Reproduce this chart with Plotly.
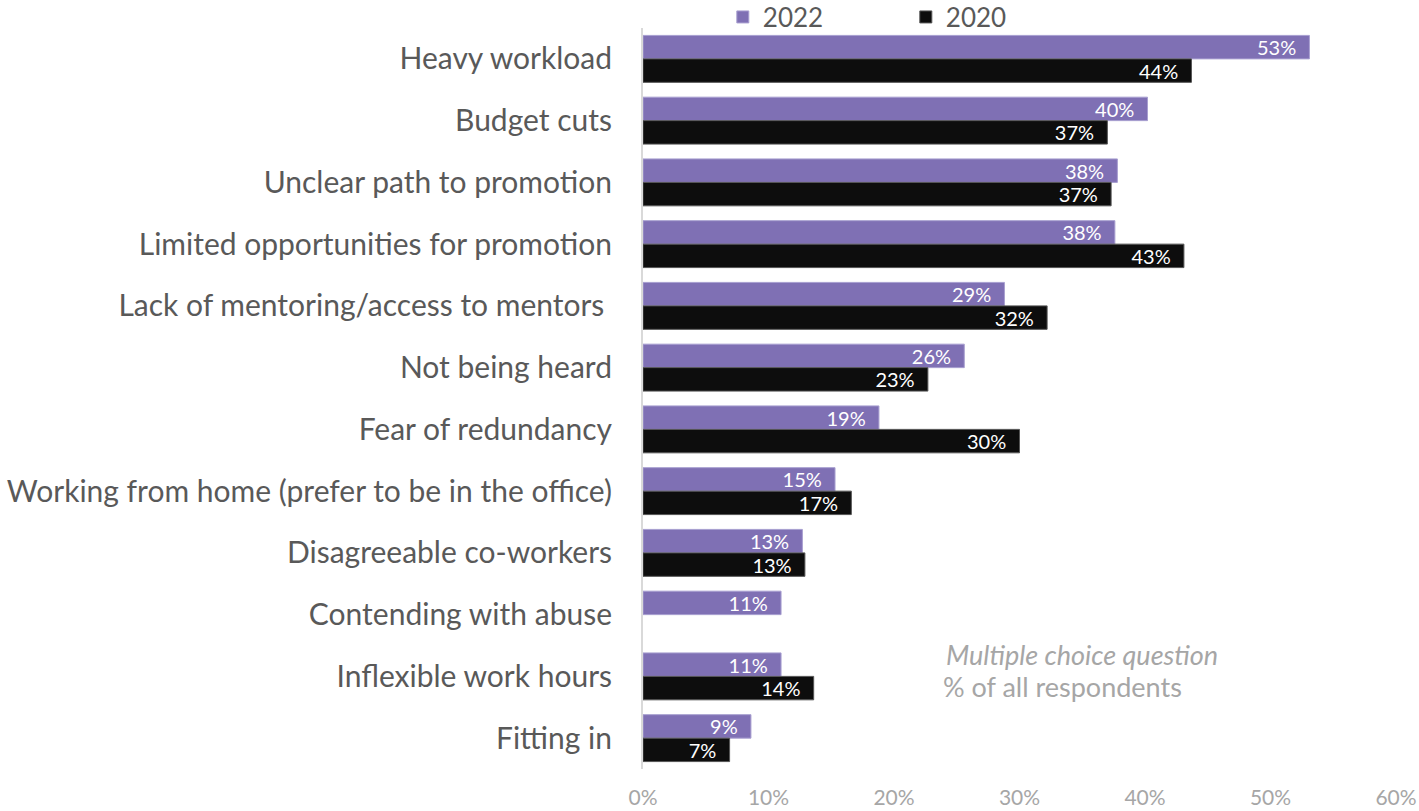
import plotly.graph_objects as go

# Survey data: share of respondents citing each workplace concern
categories = [
    "Heavy workload",
    "Budget cuts",
    "Unclear path to promotion",
    "Limited opportunities for promotion",
    "Lack of mentoring/access to mentors\u00a0",
    "Not being heard",
    "Fear of redundancy",
    "Working from home (prefer to be in the office)",
    "Disagreeable co-workers",
    "Contending with abuse",
    "Inflexible work hours",
    "Fitting in",
]
values_2022 = [53.1, 40.2, 37.8, 37.6, 28.8, 25.6, 18.8, 15.3, 12.7, 11.0, 11.0, 8.6]
values_2020 = [43.7, 37.0, 37.3, 43.1, 32.2, 22.7, 30.0, 16.6, 12.9, None, 13.6, 6.9]
x_ticks = [0, 10, 20, 30, 40, 50, 60]
x_tick_labels = ["0%", "10%", "20%", "30%", "40%", "50%", "60%"]

FONT = "Lato"
PURPLE = "#7f70b4"
BLACK = "#0d0d0d"
PAD = "\u00a0\u00a0"

fig = go.Figure()
fig.add_trace(go.Bar(
    name="2022", y=categories, x=values_2022, orientation="h",
    marker=dict(color=PURPLE, line=dict(color="#a89fd0", width=1)),
    texttemplate="%{x:.0f}%" + PAD, textposition="inside",
    insidetextanchor="end", constraintext="none",
    textfont=dict(color="white", size=20, family=FONT),
    hoverinfo="skip",
))
fig.add_trace(go.Bar(
    name="2020", y=categories, x=values_2020, orientation="h",
    marker=dict(color=BLACK, line=dict(color="#555555", width=1)),
    texttemplate="%{x:.0f}%" + PAD, textposition="inside",
    insidetextanchor="end", constraintext="none",
    textfont=dict(color="white", size=20, family=FONT),
    hoverinfo="skip",
))

fig.add_annotation(
    x=0.400, y=0.155, xref="paper", yref="paper", xanchor="left", yanchor="middle",
    text="<i>Multiple choice question</i>", showarrow=False,
    font=dict(size=27, color="#a6a6a6", family=FONT),
)
fig.add_annotation(
    x=0.396, y=0.112, xref="paper", yref="paper", xanchor="left", yanchor="middle",
    text="% of all respondents", showarrow=False,
    font=dict(size=27, color="#a6a6a6", family=FONT),
)

fig.update_layout(
    width=1419, height=811,
    margin=dict(l=643, r=23, t=28, b=42, autoexpand=False),
    paper_bgcolor="white", plot_bgcolor="white",
    barmode="group", bargap=0.24, bargroupgap=0,
    font=dict(family=FONT, color="#595959"),
    showlegend=True,
    legend=dict(
        orientation="h", x=0.106, y=0.979, xanchor="left", yanchor="middle",
        xref="paper", yref="container",
        font=dict(size=26, color="#595959", family=FONT),
        entrywidth=138, entrywidthmode="pixels",
        itemwidth=30, bgcolor="rgba(0,0,0,0)",
    ),
    xaxis=dict(
        range=[0, 60], tickvals=x_ticks, ticktext=x_tick_labels,
        showgrid=False, zeroline=False, showline=False, automargin=False,
        tickfont=dict(size=21, color="#a6a6a6", family=FONT),
        ticklabelstandoff=14,
    ),
    yaxis=dict(
        autorange="reversed", showgrid=False, zeroline=False, automargin=False,
        showline=True, linecolor="#d9d9d9", linewidth=2,
        tickfont=dict(size=30, color="#595959", family=FONT),
        ticks="", ticklabelstandoff=23,
    ),
)

fig.write_html("out.html")
